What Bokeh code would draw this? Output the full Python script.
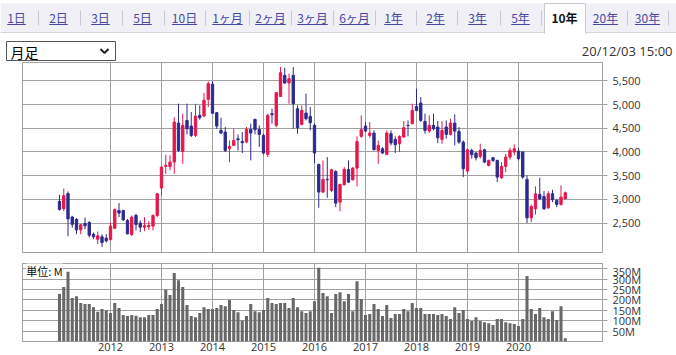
from bokeh.plotting import figure
from bokeh.layouts import column
from bokeh.models import Range1d, FixedTicker, Label, ColumnDataSource, NumeralTickFormatter
from bokeh.embed import file_html
from bokeh.resources import INLINE
from bokeh.core.properties import value

# ---------------- data ----------------
tabs = ["1日", "2日", "3日", "5日", "10日", "1ヶ月", "2ヶ月", "3ヶ月", "6ヶ月",
        "1年", "2年", "3年", "5年", "10年", "20年", "30年"]
selected_tab = "10年"
select_label = "月足"
timestamp = "20/12/03 15:00"
start_year = 2011
years = [2012, 2013, 2014, 2015, 2016, 2017, 2018, 2019, 2020]
price_ticks = [2500, 3000, 3500, 4000, 4500, 5000, 5500]
volume_ticks = [50, 100, 150, 200, 250, 300, 350]
volume_unit = "単位: M"

opens = [2960, 2805, 3125, 2630, 2585, 2359, 2493, 2514, 2268, 2162, 2212, 2184,
         2158, 2395, 2768, 2768, 2557, 2262, 2663, 2501, 2416, 2423, 2438, 2663,
         3239, 3696, 3696, 3787, 4610, 4012, 4666, 4547, 4350, 4772, 4758, 5109,
         5430, 4828, 4455, 4420, 4069, 4139, 4279, 4223, 4209, 4476, 4687, 4476,
         4350, 3949, 4807, 4561, 5172, 5615, 5453, 5615, 4912, 4582, 4821, 4750,
         4561, 3738, 3155, 3422, 3190, 3591, 2944, 3309, 3633, 3415, 3661, 4329,
         4547, 4350, 4399, 4033, 4069, 3949, 4385, 4265, 4174, 4315, 4561, 4596,
         4961, 5032, 4645, 4441, 4561, 4526, 4265, 4526, 4371, 4610, 4434, 4209,
         3598, 4033, 3977, 3907, 4047, 3717, 3879, 3823, 3457, 3696, 3893, 3998,
         4019, 3998, 3422, 2613, 2803, 3105, 3063, 2824, 3120, 2979, 2895, 3014]
highs = [3100, 3230, 3170, 2655, 2600, 2479, 2620, 2542, 2303, 2324, 2268, 2268,
         2514, 2810, 2923, 2782, 2590, 2663, 2698, 2557, 2627, 2540, 2684, 3134,
         3696, 3942, 3928, 4736, 5018, 4807, 5018, 4842, 5018, 4982, 5243, 5489,
         5489, 4842, 4722, 4526, 4244, 4490, 4371, 4420, 4526, 4596, 4701, 4561,
         4385, 4807, 4912, 5264, 5791, 5777, 5650, 5791, 4982, 4982, 5229, 4947,
         4596, 3752, 3823, 3893, 3647, 3612, 3330, 3682, 3823, 3682, 4329, 4772,
         4631, 4631, 4455, 4244, 4104, 4455, 4455, 4329, 4350, 4652, 4666, 5018,
         5334, 5158, 4807, 4772, 4807, 4652, 4652, 4666, 4701, 4793, 4526, 4244,
         4069, 4069, 3998, 4174, 4069, 3837, 3893, 3837, 3787, 3963, 4090, 4160,
         4090, 4019, 3506, 2895, 3274, 3457, 3176, 3176, 3204, 3014, 3295, 3169]
lows = [2765, 2758, 2222, 2405, 2268, 2268, 2373, 2197, 2162, 2057, 2000, 2092,
        2127, 2373, 2627, 2543, 2262, 2227, 2346, 2311, 2332, 2360, 2346, 2627,
        3084, 3541, 3612, 3541, 3998, 3752, 4371, 4315, 4315, 4680, 4736, 4947,
        4807, 4490, 4385, 3998, 3787, 4125, 4033, 3977, 4188, 3823, 4371, 4104,
        3949, 3893, 4596, 4526, 5158, 5439, 5018, 4490, 4385, 4561, 4666, 4455,
        3766, 2824, 3134, 3035, 3155, 2838, 2747, 3295, 3344, 3401, 3274, 4301,
        4420, 4301, 4033, 3752, 3963, 3942, 4139, 3977, 3998, 4301, 4329, 4582,
        4863, 4631, 4385, 4399, 4455, 4188, 4174, 4279, 4350, 4139, 4174, 3471,
        3541, 3858, 3823, 3858, 3766, 3696, 3787, 3366, 3436, 3576, 3837, 3928,
        3823, 3436, 2501, 2522, 2684, 2993, 2782, 2803, 2944, 2838, 2873, 3000]
closes = [2790, 3080, 2590, 2476, 2359, 2465, 2444, 2247, 2212, 2233, 2092, 2127,
          2440, 2785, 2712, 2571, 2276, 2627, 2473, 2416, 2452, 2452, 2663, 3120,
          3682, 3717, 3787, 4631, 4033, 4561, 4490, 4350, 4758, 4722, 5088, 5440,
          4815, 4547, 4399, 4033, 4118, 4244, 4258, 4195, 4476, 4399, 4469, 4371,
          3977, 4772, 4786, 5250, 5671, 5453, 5545, 5018, 4511, 4877, 4701, 4617,
          3977, 3155, 3422, 3415, 3626, 2923, 3316, 3633, 3366, 3661, 4223, 4469,
          4441, 4399, 4047, 4139, 3977, 4399, 4188, 4153, 4329, 4511, 4554, 4877,
          4877, 4666, 4455, 4561, 4490, 4301, 4455, 4371, 4610, 4441, 4209, 3647,
          4047, 3942, 3879, 4033, 3787, 3823, 3823, 3471, 3696, 3893, 4033, 4069,
          3858, 3471, 2613, 2852, 3120, 3014, 2803, 3120, 2993, 2895, 3049, 3141]
volumes = [228, 262, 335, 209, 218, 185, 180, 180, 165, 143, 156, 149,
           137, 185, 161, 127, 122, 127, 124, 117, 117, 127, 127, 156,
           180, 249, 223, 329, 295, 262, 175, 122, 117, 137, 165, 156,
           156, 161, 175, 170, 200, 151, 141, 101, 122, 180, 146, 141,
           151, 209, 185, 180, 185, 185, 161, 209, 165, 146, 137, 146,
           194, 355, 233, 218, 137, 228, 237, 194, 228, 146, 290, 204,
           127, 132, 180, 156, 122, 175, 113, 132, 132, 156, 146, 185,
           161, 161, 132, 132, 132, 127, 132, 122, 108, 165, 137, 151,
           108, 98, 117, 98, 93, 88, 79, 108, 108, 93, 88, 84,
           74, 108, 315, 156, 132, 161, 117, 108, 146, 103, 170, 16]

# ---------------- styles ----------------
UP = "#e6174b"
DOWN = "#2b2a8e"
GRID = "#a0a0a0"
LINK = "#4848a4"
FONT = "Open Sans"
JP = "Noto Sans CJK JP"

months = list(range(len(opens)))
colors = [UP if c >= o else DOWN for o, c in zip(opens, closes)]
src = ColumnDataSource(dict(
    x=months, o=opens, h=highs, l=lows, c=closes,
    top=[max(o, c) for o, c in zip(opens, closes)],
    bot=[min(o, c) for o, c in zip(opens, closes)],
    color=colors, v=volumes))

year_pos = [(y - start_year) * 12 for y in years]
year_labels = {p: str(y) for p, y in zip(year_pos, years)}

X0 = -8.706
X1 = X0 + 580 / 4.25
xr = Range1d(X0, X1)

# ---------------- header ----------------
W = 676
hdr = figure(width=W, height=62, x_range=Range1d(0, W), y_range=Range1d(62, 0),
             toolbar_location=None, output_backend="svg", min_border=0,
             x_axis_location=None, y_axis_location=None)
try:
    hdr.frame_align = False
except Exception:
    pass
hdr.grid.visible = False
hdr.outline_line_color = None

tab_centers = [16, 58, 100, 142, 184, 227, 270, 312, 354, 393, 435, 477, 520, 564, 605, 647]
sep_x = [38, 80, 122, 164, 205, 249, 291, 333, 375, 416, 457, 500, 541, 627, 668]
sel = tabs.index(selected_tab)
sel_l, sel_r = 544, 585

hdr.quad(left=[0], right=[W], top=[3], bottom=[32], fill_color="#f0f0f6", line_color=None)
hdr.segment(x0=[0], y0=[32], x1=[W], y1=[32], line_color="#d4d4dc", line_width=1)
hdr.quad(left=[sel_l], right=[sel_r], top=[3], bottom=[33], fill_color="white", line_color=None)
hdr.segment(x0=[sel_l, sel_r, sel_l], y0=[3, 3, 3], x1=[sel_l, sel_r, sel_r], y1=[33, 33, 3],
            line_color="#c8c8d0", line_width=1)
hdr.segment(x0=sep_x, y0=[10] * len(sep_x), x1=sep_x, y1=[25] * len(sep_x),
            line_color="#c8c8d0", line_width=1)

link_tabs = [t for i, t in enumerate(tabs) if i != sel]
link_x = [x for i, x in enumerate(tab_centers) if i != sel]
hdr.text(x=link_x, y=[17] * len(link_x), text=link_tabs, text_align="center",
         text_baseline="middle", text_font=value(JP), text_font_size="12px",
         text_color=LINK)


def tw(t):
    return sum(6.6 if ch.isdigit() else 12 for ch in t)


hdr.segment(x0=[x - tw(t) / 2 for x, t in zip(link_x, link_tabs)], y0=[24] * len(link_x),
            x1=[x + tw(t) / 2 for x, t in zip(link_x, link_tabs)], y1=[24] * len(link_x),
            line_color=LINK, line_width=1)
hdr.text(x=[tab_centers[sel]], y=[17], text=[selected_tab], text_align="center",
         text_baseline="middle", text_font=value(JP), text_font_size="12px",
         text_font_style="bold", text_color="#111111")

# select box
hdr.quad(left=[6], right=[115], top=[41], bottom=[60], fill_color="white",
         line_color="#555555", line_width=1)
hdr.text(x=[10], y=[51], text=[select_label], text_align="left", text_baseline="middle",
         text_font=value(JP), text_font_size="14px", text_color="#000000")
hdr.line(x=[100, 104, 108], y=[48.5, 52.5, 48.5], line_color="#222222", line_width=2)

hdr.text(x=[672], y=[50], text=[timestamp], text_align="right", text_baseline="middle",
         text_font=value(FONT), text_font_size="13px", text_color="#333333")

# ---------------- price chart ----------------
p = figure(width=W, height=201, x_range=xr, y_range=Range1d(1882, 5886),
           toolbar_location=None, output_backend="svg",
           x_axis_location=None, y_axis_location="right",
           min_border_left=22, min_border_right=74, min_border_top=0, min_border_bottom=11)
p.outline_line_color = GRID
p.xgrid.ticker = FixedTicker(ticks=year_pos)
p.yaxis.ticker = FixedTicker(ticks=price_ticks)
p.yaxis.formatter = NumeralTickFormatter(format="0,0")
for g in p.grid:
    g.grid_line_color = GRID
    g.grid_line_alpha = 1.0
ax = p.yaxis[0]
ax.axis_line_color = GRID
ax.major_tick_line_color = GRID
ax.major_tick_out = 5
ax.major_tick_in = 0
ax.minor_tick_line_color = None
ax.major_label_standoff = 5
ax.major_label_text_font = FONT
ax.major_label_text_font_size = "11px"
ax.major_label_text_color = "#333333"

p.segment(x0="x", y0="l", x1="x", y1="h", line_color="color", line_width=1, source=src)
p.vbar(x="x", width=0.55, top="top", bottom="bot", fill_color="color",
       line_color="color", line_width=1, source=src)

# ---------------- volume chart ----------------
v = figure(width=W, height=92, x_range=xr, y_range=Range1d(0, 375),
           toolbar_location=None, output_backend="svg",
           x_axis_location="below", y_axis_location="right",
           min_border_left=22, min_border_right=74, min_border_top=0, min_border_bottom=14)
v.outline_line_color = GRID
v.xaxis.ticker = FixedTicker(ticks=year_pos)
v.xaxis.major_label_overrides = year_labels
v.yaxis.ticker = FixedTicker(ticks=volume_ticks)
v.yaxis.major_label_overrides = {t: f"{t}M" for t in volume_ticks}
for g in v.grid:
    g.grid_line_color = GRID
    g.grid_line_alpha = 1.0
xa = v.xaxis[0]
xa.axis_line_color = None
xa.major_tick_line_color = None
xa.minor_tick_line_color = None
xa.major_tick_out = 0
xa.major_tick_in = 0
xa.major_label_standoff = 1
xa.major_label_text_font = FONT
xa.major_label_text_font_size = "11px"
xa.major_label_text_color = "#333333"
ya = v.yaxis[0]
ya.axis_line_color = GRID
ya.major_tick_line_color = GRID
ya.major_tick_out = 5
ya.major_tick_in = 0
ya.minor_tick_line_color = None
ya.major_label_standoff = 5
ya.major_label_text_font = FONT
ya.major_label_text_font_size = "11px"
ya.major_label_text_color = "#333333"

v.vbar(x="x", width=0.72, top="v", bottom=0, fill_color="#686868", line_color=None, source=src)
v.add_layout(Label(x=X0 + 0.9, y=339, text=volume_unit, text_font=JP, text_font_size="11px",
                   text_baseline="middle", text_color="#111111",
                   background_fill_color="white"))

layout = column(hdr, column(p, v, spacing=0), spacing=0)
open("out.html", "w").write(file_html(layout, INLINE))
